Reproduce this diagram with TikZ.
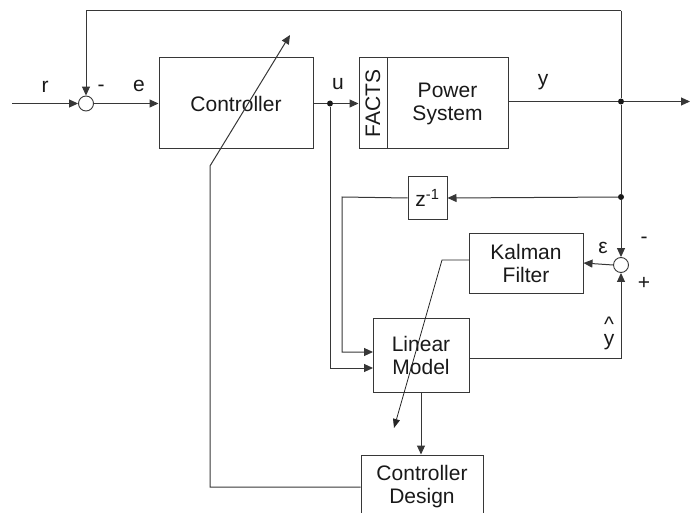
\documentclass[tikz,border=0pt]{standalone}
\usepackage{fontspec}
\setmainfont{Liberation Sans}
\usetikzlibrary{arrows.meta}
\definecolor{ln}{RGB}{55,55,55}
\tikzset{
  blk/.style={draw=ln, line width=1pt, rectangle, inner sep=0pt, align=center, font=\fontsize{21}{23}\selectfont, text=black!90},
  sumc/.style={draw=ln, line width=0.9pt, circle, minimum size=15pt, inner sep=0pt, fill=white},
  lbl/.style={font=\fontsize{21}{23}\selectfont, text=black!90, inner sep=0pt},
  wire/.style={draw=ln, line width=1pt},
  arr/.style={wire, -{Triangle[length=9pt,width=8pt]}},
  thin/.style={draw=black!85, line width=0.8pt},
  dotn/.style={circle, fill=black!90, inner sep=0pt, minimum size=6pt}
}
\begin{document}
\begin{tikzpicture}[x=1pt,y=-1pt]
\useasboundingbox (0,0) rectangle (693,513);
% blocks
\node[blk, minimum width=154pt, minimum height=91pt] (ctrl) at (236,103.5) {Controller};
\node[blk, minimum width=28pt, minimum height=91pt] (facts) at (373,103.5) {};
\node[lbl, rotate=90] (factst) at (373,103.5) {FACTS};
\node[blk, minimum width=121pt, minimum height=91pt] (ps) at (447.5,103.5) {Power\\System};
\node[blk, minimum width=39pt, minimum height=42pt] (zd) at (427.5,198) {z\textsuperscript{-1}};
\node[blk, minimum width=114pt, minimum height=60pt] (kf) at (526,263) {Kalman\\Filter};
\node[blk, minimum width=96pt, minimum height=74pt] (lm) at (421,355) {Linear\\Model};
\node[blk, minimum width=122pt, minimum height=64pt] (cd) at (422,487) {Controller\\Design};
% summing junctions
\node[sumc] (s1) at (86,103.5) {};
\node[sumc] (s2) at (621,265) {};
% dots and coordinates
\node[dotn] (du) at (330,103.5) {};
\node[dotn] (dy) at (621,101.5) {};
\node[dotn] (dz) at (621,197) {};
\coordinate (rin) at (12,103.5);
\coordinate (yout) at (690,101.5);
\coordinate (tl) at (86,11);
\coordinate (tr) at (621,11);
\coordinate (zl) at (342,197);
\coordinate (lmin1) at (373,352);
\coordinate (lmin2) at (373,368);
\coordinate (cdl) at (210,487);
\coordinate (cdb) at (210,166);
\coordinate (ctip) at (290,35);
\coordinate (kfo) at (469,260);
\coordinate (kfb) at (442,260);
\coordinate (ktip) at (394,428);
% connectors
\draw[arr] (rin) -- (s1.west);
\draw[arr] (s1.east) -- (ctrl.west);
\draw[wire] (ctrl.east) -- (du);
\draw[arr] (du) -- (facts.west);
\draw[wire] (ps.east |- dy) -- (dy);
\draw[arr] (dy) -- (yout);
\draw[arr] (tr) -- (tl) -- (s1.north);
\draw[wire] (tr) -- (dy) -- (dz);
\draw[arr] (dz) -- (s2.north);
\draw[arr] (dz) -- (zd.east);
\draw[arr] (zd.west) -- (zl) |- (lmin1);
\draw[arr] (du) |- (lmin2);
\draw[arr] (lm.east |- 0,358) -| (s2.south);
\draw[arr] (s2.west) -- (kf.east);
\draw[arr] (lm.south) -- (lm.south |- cd.north);
\draw[arr] (cd.west |- cdl) -- (cdl) -- (cdb) -- (ctip);
\draw[thin, -{Triangle[length=9pt,width=7pt]}] (kfo) -- (kfb) -- (ktip);
% labels
\node[lbl] (lr) at (45,87) {r};
\node[lbl] (lm1) at (101,88) {-};
\node[lbl] (le) at (139,86) {e};
\node[lbl] (lu) at (338,84) {u};
\node[lbl] (ly) at (543,82) {y};
\node[lbl] (leps) at (603,248) {ε};
\node[lbl] (lm2) at (644,240) {-};
\node[lbl] (lp) at (644,283) {+};
\node[lbl, align=center, font=\fontsize{21}{14}\selectfont] (lyh) at (609,333) {\textasciicircum\\y};
\end{tikzpicture}
\end{document}
